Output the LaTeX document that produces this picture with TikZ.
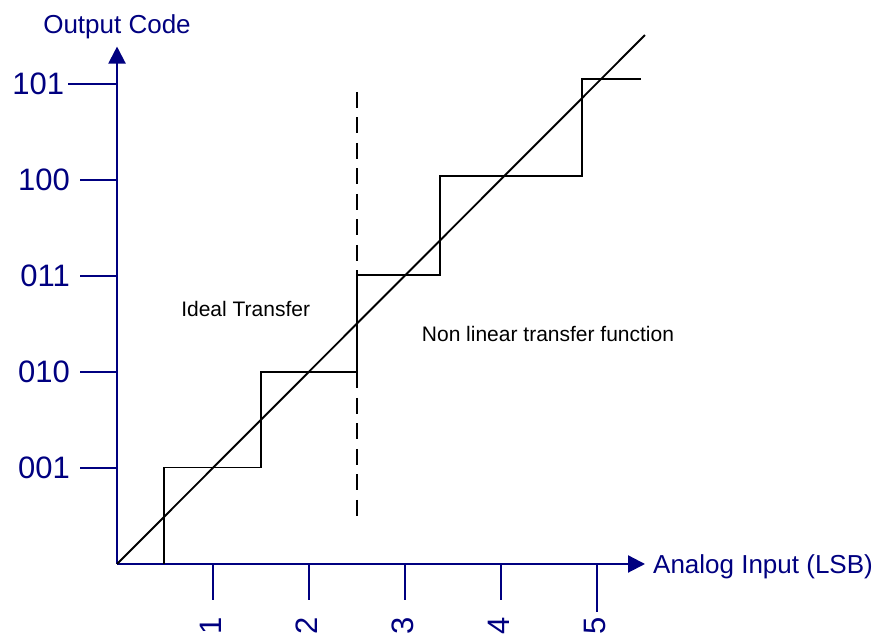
\documentclass[tikz,border=0pt]{standalone}
\usepackage{fontspec}
\setmainfont{Liberation Sans}
\usetikzlibrary{arrows.meta}
\definecolor{axisblue}{RGB}{0,0,128}

\begin{document}
\begin{tikzpicture}[x=96pt,y=96pt,
    axis/.style={draw=axisblue,line width=2.2pt},
    axisarrow/.style={axis,-{Triangle[length=17pt,width=17pt]}},
    curve/.style={draw=black,line width=1.9pt},
    ticklabel/.style={text=axisblue,font=\fontsize{31}{31}\selectfont,inner sep=0pt},
    axislabel/.style={text=axisblue,font=\fontsize{26}{26}\selectfont,inner sep=0pt},
    note/.style={text=black,font=\fontsize{21}{21}\selectfont,inner sep=0pt}]
    \useasboundingbox (-1.219,-0.729) rectangle (7.948,5.875);

    \coordinate (o) at (0,0);
    \coordinate (xend) at (5.5,0);
    \coordinate (yend) at (0,5.39);
    \draw[axisarrow] (o) -- (yend);
    \draw[axisarrow] (o) -- (xend);
    \node[axislabel,anchor=base] (ytitle) at (0,5.521) {Output Code};
    \node[axislabel,anchor=base west] (xtitle) at (5.583,-0.094) {Analog Input (LSB)};

    % output codes
    \draw[axis] (-0.385,1) -- (0,1);
    \draw[axis] (-0.385,2) -- (0,2);
    \draw[axis] (-0.385,3) -- (0,3);
    \draw[axis] (-0.385,4) -- (0,4);
    \draw[axis] (-0.51,5) -- (0,5);
    \node[ticklabel,anchor=east] (c001) at (-0.49,1) {001};
    \node[ticklabel,anchor=east] (c010) at (-0.49,2) {010};
    \node[ticklabel,anchor=east] (c011) at (-0.49,3) {011};
    \node[ticklabel,anchor=east] (c100) at (-0.49,4) {100};
    \node[ticklabel,anchor=east] (c101) at (-0.55,5) {101};

    % input steps
    \draw[axis] (1,0) -- (1,-0.375);
    \draw[axis] (2,0) -- (2,-0.375);
    \draw[axis] (3,0) -- (3,-0.375);
    \draw[axis] (4,0) -- (4,-0.375);
    \draw[axis] (5,0) -- (5,-0.5);
    \node[ticklabel,rotate=90,anchor=east] (in1) at (0.98,-0.55) {1};
    \node[ticklabel,rotate=90,anchor=east] (in2) at (1.98,-0.55) {2};
    \node[ticklabel,rotate=90,anchor=east] (in3) at (2.98,-0.55) {3};
    \node[ticklabel,rotate=90,anchor=east] (in4) at (3.98,-0.55) {4};
    \node[ticklabel,rotate=90,anchor=east] (in5) at (4.98,-0.55) {5};

    % transfer functions
    \draw[curve] (0,0) -- (5.5,5.51);
    \draw[curve] (0.49,0) -- (0.49,1.005) -- (1.5,1.005) -- (1.5,2) -- (2.5,2)
        -- (2.5,3.01) -- (3.36,3.01) -- (3.36,4.04) -- (4.84,4.04)
        -- (4.84,5.05) -- (5.46,5.05);
    \draw[curve,dash pattern=on 16pt off 9.5pt] (2.5,4.917) -- (2.5,0.406);

    \node[note,anchor=base west] (ideal) at (0.667,2.576) {Ideal Transfer};
    \node[note,anchor=base west] (nonlin) at (3.174,2.316) {Non linear transfer function};
  \end{tikzpicture}
\end{document}
